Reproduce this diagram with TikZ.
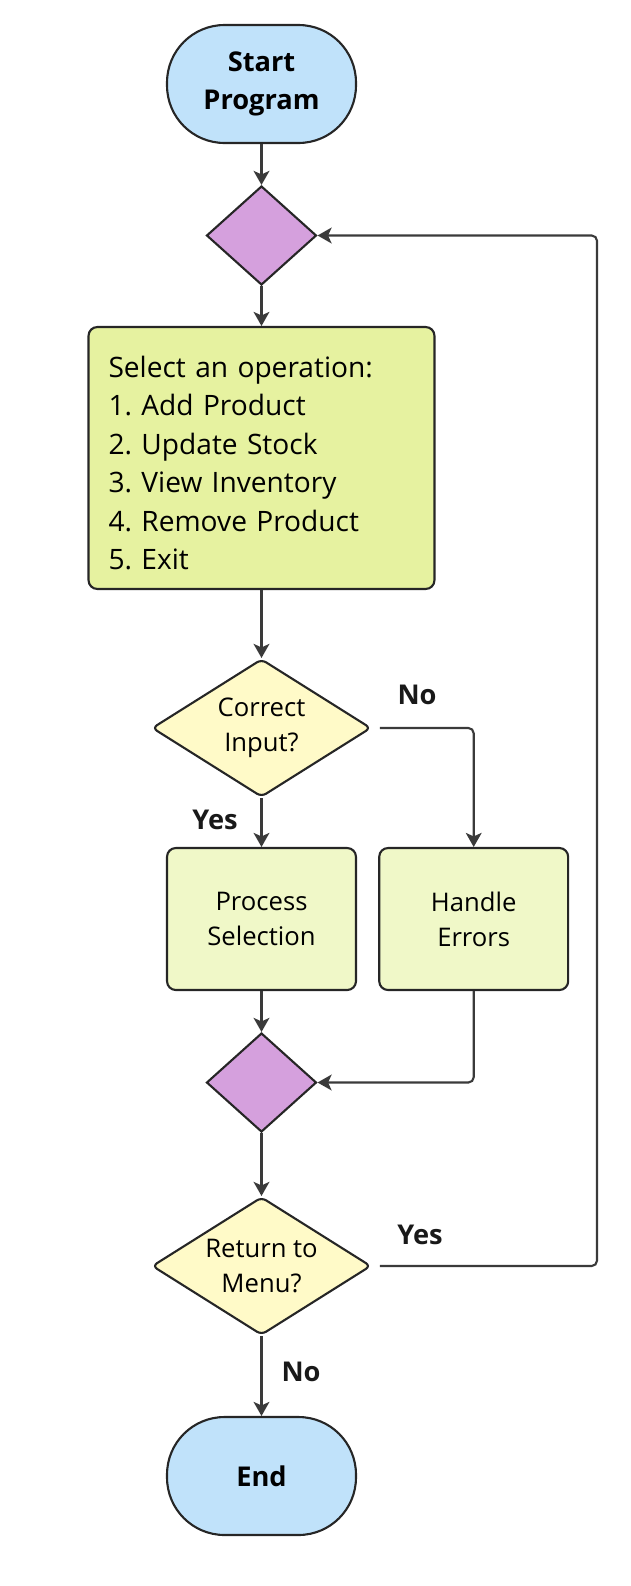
\documentclass[tikz,border=0pt]{standalone}
\usepackage{fontspec}
\setmainfont{Open Sans}
\usetikzlibrary{shapes.geometric}
\usetikzlibrary{arrows.meta}
\definecolor{termblue}{RGB}{192,226,250}
\definecolor{joinpurple}{RGB}{213,160,221}
\definecolor{menugreen}{RGB}{230,242,160}
\definecolor{procgreen}{RGB}{240,248,200}
\definecolor{decyellow}{RGB}{255,250,200}
\definecolor{linegray}{RGB}{58,58,58}
\frenchspacing
\tikzset{
    termnode/.style = {rectangle, rounded corners=1.15cm, line width=1.2pt, draw=black!85, fill=termblue, minimum width=3.78cm, minimum height=2.36cm, align=center, font=\fontsize{15.5pt}{22pt}\selectfont\bfseries},
    joinnode/.style = {diamond, line width=1.2pt, draw=black!85, fill=joinpurple, inner sep=0pt, minimum width=2.2cm, minimum height=1.98cm},
    decnode/.style = {diamond, rounded corners=3pt, line width=1.2pt, draw=black!85, fill=decyellow, inner sep=0pt, shape aspect=1.6, minimum width=4.38cm, minimum height=2.76cm, align=center, font=\fontsize{14.6pt}{19.8pt}\selectfont},
    procnode/.style = {rectangle, rounded corners=5pt, line width=1.2pt, draw=black!85, fill=procgreen, minimum width=3.78cm, minimum height=2.84cm, align=center, font=\fontsize{14.6pt}{19.8pt}\selectfont},
    menunode/.style = {rectangle, rounded corners=5pt, line width=1.2pt, draw=black!85, fill=menugreen, minimum width=6.92cm, minimum height=5.24cm, inner xsep=0.4cm, text width=6.12cm, align=left, font=\fontsize{16pt}{21.9pt}\selectfont},
    lbl/.style = {font=\fontsize{15.5pt}{18pt}\selectfont\bfseries, text=black!90},
    edgen/.style = {-{Stealth[length=8pt,width=9pt,inset=2pt]}, line width=1.2pt, draw=linegray, rounded corners=3pt}
}
\begin{document}
\begin{tikzpicture}[x=0.02cm, y=-0.02cm]
\useasboundingbox (0,0) rectangle (630,1586);
%
\node[termnode] at (261.5, 84) (start) {Start\\Program};
\node[joinnode] at (261.5, 235.5) (d1) {};
\node[menunode] at (261.5, 458) (menu) {\rule{0pt}{18pt}Select an operation:\\1. Add Product\\2. Update Stock\\3. View Inventory\\4. Remove Product\\5. Exit};
\node[decnode] at (261.5, 728) (correct) {Correct\\Input?};
\node[procnode] at (261.5, 919) (process) {Process\\Selection};
\node[procnode] at (473.7, 919) (handle) {Handle\\Errors};
\node[joinnode] at (261.5, 1082.5) (d2) {};
\node[decnode] at (261.5, 1266) (ret) {Return to\\Menu?};
\node[termnode] at (261.5, 1476) (end) {End};
\coordinate (loop) at (597, 1266);
%
\node[lbl] at (417, 695) (nocorrect) {No};
\node[lbl] at (215, 820) (yescorrect) {Yes};
\node[lbl] at (420, 1235) (yesret) {Yes};
\node[lbl] at (301, 1372) (noret) {No};
%
\draw[edgen] (start) -- (d1);
\draw[edgen] (d1) -- (menu);
\draw[edgen] (menu) -- (correct);
\draw[edgen] (correct) -- (process);
\draw[edgen, shorten <=4.5pt] (correct.east) -| (handle);
\draw[edgen] (process) -- (d2);
\draw[edgen] (handle) |- (d2);
\draw[edgen] (d2) -- (ret);
\draw[edgen] (ret) -- (end);
\draw[edgen, shorten <=4.5pt] (ret.east) -- (loop) |- (d1);
\end{tikzpicture}
\end{document}
